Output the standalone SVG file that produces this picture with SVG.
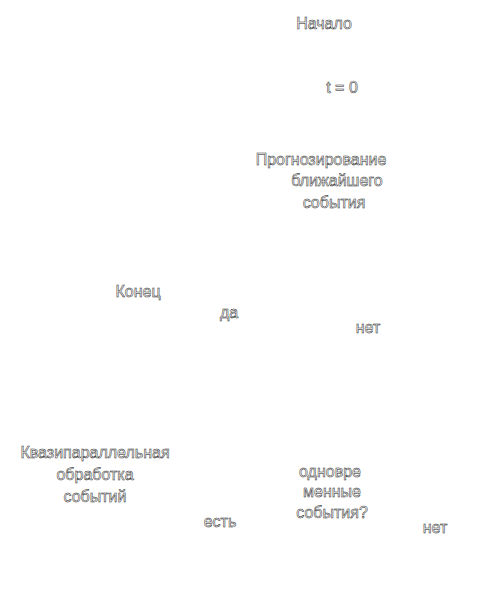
<svg xmlns="http://www.w3.org/2000/svg" width="497" height="592" viewBox="0 0 497 592">
<style>
text{font-family:"Liberation Sans",Arial,sans-serif;font-size:16px;text-anchor:middle;fill:#fff;stroke:#222;stroke-width:0.5}
</style>
<rect width="497" height="592" fill="#fff"/>
<g id="connectors"></g>
<g id="start"><text x="324" y="29">Начало</text></g>
<g id="init"><text x="342" y="93">t = 0</text></g>
<g id="predict"><text x="321" y="165">Прогнозирование</text><text x="337" y="186">ближайшего</text><text x="334" y="208">события</text></g>
<g id="end"><text x="138" y="297">Конец</text></g>
<g id="label-yes"><text x="229" y="318">да</text></g>
<g id="label-no1"><text x="368" y="333">нет</text></g>
<g id="process"><text x="95" y="458">Квазипараллельная</text><text x="95" y="480">обработка</text><text x="95" y="502">событий</text></g>
<g id="decision"><text x="330" y="477">одновре</text><text x="332" y="497">менные</text><text x="332" y="518">события?</text></g>
<g id="label-есть"><text x="220" y="527">есть</text></g>
<g id="label-no2"><text x="435" y="533">нет</text></g>
</svg>
